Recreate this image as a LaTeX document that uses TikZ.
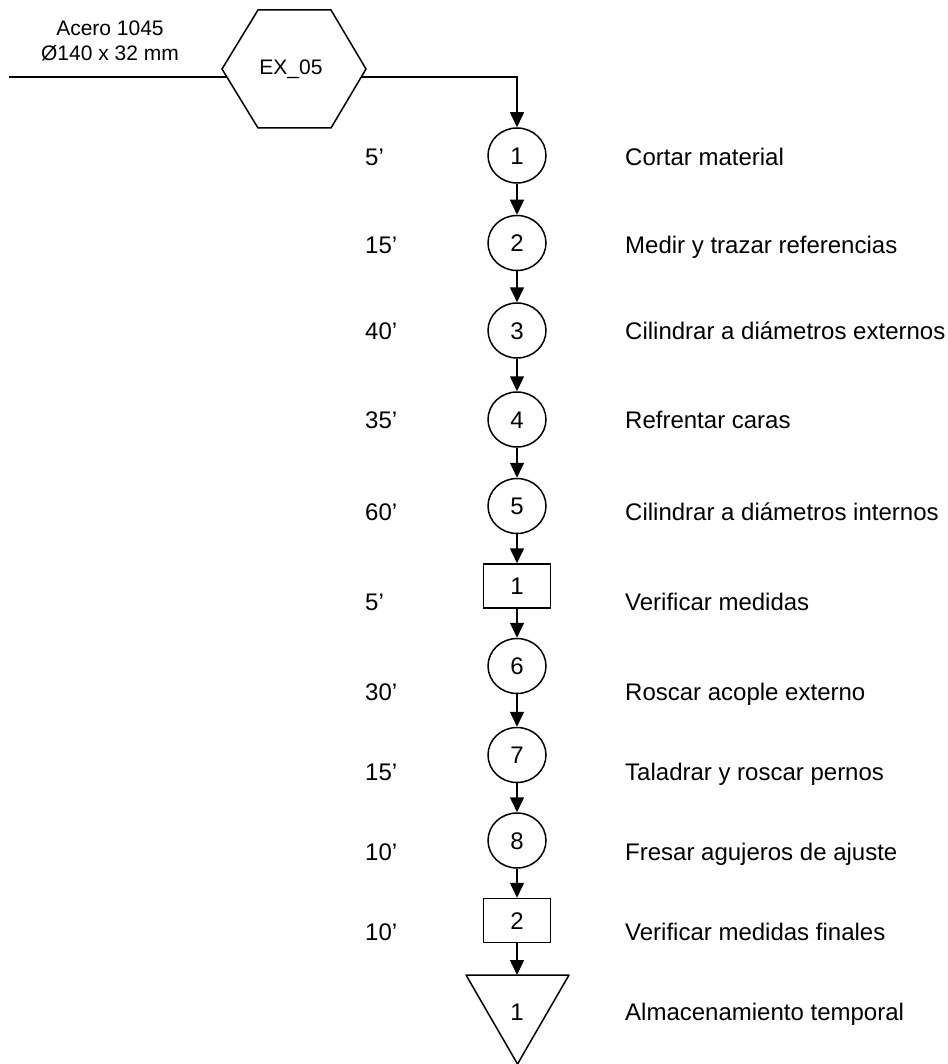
\documentclass[tikz,border=0pt]{standalone}
\usepackage{fontspec}
\setmainfont{Liberation Sans}
\usetikzlibrary{arrows.meta,shapes.geometric}
\begin{document}
\begin{tikzpicture}[x=1pt,y=-1pt,
  txt/.style={inner sep=0pt,text height=17.2pt,text depth=0pt,font=\fontsize{24}{28}\selectfont},
  smalltxt/.style={inner sep=0pt,font=\fontsize{21}{25}\selectfont},
  flow/.style={line width=1.5pt},
  arr/.style={flow,-{Triangle[width=14pt,length=15pt]}},
  op/.style={txt,draw,line width=1.5pt,ellipse,minimum width=58pt,minimum height=55pt},
  insp/.style={txt,draw,line width=1.5pt,rectangle,minimum width=67pt,minimum height=44pt},
  tm/.style={txt,anchor=west},
  desc/.style={txt,anchor=west}]
\useasboundingbox (0,0) rectangle (947,1064);

% input material and the external part (hexagon)
\node[smalltxt] (mat1) at (110,28) {Acero 1045};
\node[smalltxt] (mat2) at (110,53) {Ø140 x 32 mm};
\coordinate (hA) at (222,69);
\coordinate (hB) at (258,10);
\coordinate (hC) at (331,10);
\coordinate (hD) at (366,69);
\coordinate (hE) at (331,128);
\coordinate (hF) at (258,128);
\draw[flow,line join=miter] (hA) -- (hB) -- (hC) -- (hD) -- (hE) -- (hF) -- cycle;
\node[smalltxt] (hex) at (291,69) {EX\_05};
\coordinate (hxL) at (227,77);
\coordinate (hxR) at (361,77);
\coordinate (in) at (9,77);
\coordinate (turn) at (517,77);

% process chain
\node[op] (c1) at (517,155.5) {1};
\node[op] (c2) at (517,243) {2};
\node[op] (c3) at (517,330.5) {3};
\node[op] (c4) at (517,419.5) {4};
\node[op] (c5) at (517,506) {5};
\node[insp] (s1) at (517,586) {1};
\node[op] (c6) at (517,666) {6};
\node[op] (c7) at (517,755) {7};
\node[op] (c8) at (517,840.5) {8};
\node[insp] (s2) at (517,920.5) {2};

% storage (inverted triangle)
\coordinate (tL) at (466,975);
\coordinate (tR) at (569,975);
\coordinate (tB) at (517.5,1064);
\coordinate (tTop) at (517,975);
\draw[flow,line join=round] (tL) -- (tR) -- (tB) -- cycle;
\node[txt] (t1) at (517,1012) {1};

% connectors
\draw[flow] (in) -- (hxL);
\draw[arr] (hxR) -- (turn) -- (c1.north);
\draw[arr] (c1) -- (c2);
\draw[arr] (c2) -- (c3);
\draw[arr] (c3) -- (c4);
\draw[arr] (c4) -- (c5);
\draw[arr] (c5) -- (s1);
\draw[arr] (s1) -- (c6);
\draw[arr] (c6) -- (c7);
\draw[arr] (c7) -- (c8);
\draw[arr] (c8) -- (s2);
\draw[arr] (s2) -- (tTop);

% times
\node[tm] (m1) at (365,157) {5’};
\node[tm] (m2) at (365,245) {15’};
\node[tm] (m3) at (365,331) {40’};
\node[tm] (m4) at (365,420) {35’};
\node[tm] (m5) at (365,512) {60’};
\node[tm] (m6) at (365,602) {5’};
\node[tm] (m7) at (365,692) {30’};
\node[tm] (m8) at (365,772) {15’};
\node[tm] (m9) at (365,852) {10’};
\node[tm] (m10) at (365,932) {10’};

% descriptions
\node[desc] (d1) at (625,157) {Cortar material};
\node[desc] (d2) at (625,245) {Medir y trazar referencias};
\node[desc] (d3) at (625,331) {Cilindrar a diámetros externos};
\node[desc] (d4) at (625,420) {Refrentar caras};
\node[desc] (d5) at (625,512) {Cilindrar a diámetros internos};
\node[desc] (d6) at (625,602) {Verificar medidas};
\node[desc] (d7) at (625,692) {Roscar acople externo};
\node[desc] (d8) at (625,772) {Taladrar y roscar pernos};
\node[desc] (d9) at (625,852) {Fresar agujeros de ajuste};
\node[desc] (d10) at (625,932) {Verificar medidas finales};
\node[desc] (d11) at (625,1012) {Almacenamiento temporal};
\end{tikzpicture}
\end{document}
